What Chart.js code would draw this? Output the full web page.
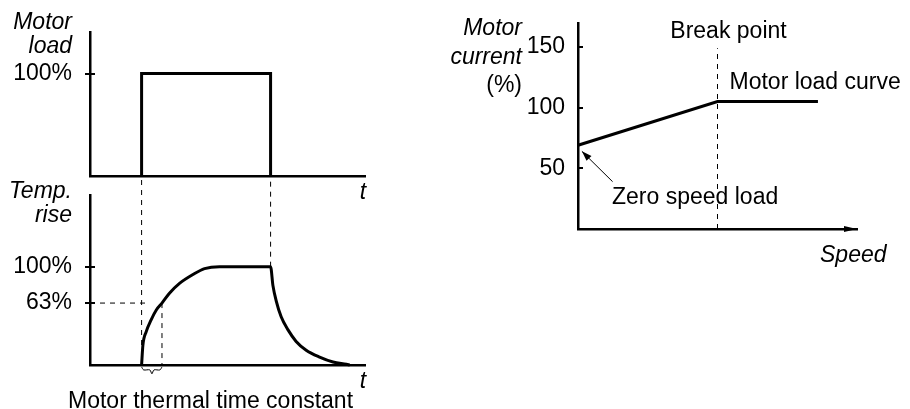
<!DOCTYPE html>
<html>
<head>
<meta charset="utf-8">
<script src="https://cdn.jsdelivr.net/npm/chart.js@4.4.1/dist/chart.umd.min.js"></script>
<style>
  html, body { margin: 0; padding: 0; background: #fff; }
  #wrap { position: relative; width: 910px; height: 409px; }
  #wrap canvas { position: absolute; left: 0; top: 0; }
</style>
</head>
<body>
<div id="wrap">
  <canvas id="loadChart" width="910" height="409"></canvas>
  <canvas id="tempChart" width="910" height="409"></canvas>
  <canvas id="currentChart" width="910" height="409"></canvas>
</div>
<script>
// motor load step (time in arbitrary units, load in %)
const loadTime = [2, 2, 7, 7];
const loadValue = [0, 100, 100, 0];
const loadTicks = [100];

// temperature rise
const tempTime = [2.0, 2.05, 2.18, 2.37, 2.57, 2.79, 3.08, 3.47, 3.99, 4.44, 5.02, 7.0,
                  7.09, 7.22, 7.41, 7.67, 7.99, 8.38, 8.9, 9.42, 9.94, 10.07];
const tempValue = [0, 20, 34, 46, 56, 63, 73, 83, 92, 98, 100, 100,
                   81, 65, 49, 36, 24, 15, 8, 3, 0.7, 0];
const tempTicks = [63, 100];
const tauTime = 2.79;     // one time constant after switch-on
const tauLevel = 63;

// small brace under the time constant
const braceTime = [2.0, 2.08, 2.32, 2.4, 2.48, 2.71, 2.79];
const braceValue = [-2, -5, -5, -9, -5, -5, -2];

// motor current vs speed
const speedValues = [0, 50, 86];
const currentValues = [69, 105, 105];
const currentTicks = [50, 100, 150];
const breakSpeed = 50;
const pointerSpeed = [12.4, 1.4];
const pointerCurrent = [39, 64];

const FAMILY = '"Liberation Sans", Arial, sans-serif';
const UPRIGHT = '23px ' + FAMILY;
const ITALIC = 'italic 23px ' + FAMILY;
const DASH = [5, 5];

function pts(xs, ys) {
    return xs.map((x, i) => ({ x: x, y: ys[i] }));
}

function line(data, extra) {
    return Object.assign({
        data: data,
        showLine: true,
        borderColor: "#000",
        borderWidth: 3,
        pointRadius: 0,
        fill: false,
        clip: false
    }, extra || {});
}

function dashed(data) {
    return line(data, { borderWidth: 1, borderDash: DASH });
}

function arrowHead(ctx, x1, y1, x2, y2, len, half) {
    const a = Math.atan2(y2 - y1, x2 - x1);
    ctx.beginPath();
    ctx.moveTo(x2, y2);
    ctx.lineTo(x2 - len * Math.cos(a) + half * Math.sin(a), y2 - len * Math.sin(a) - half * Math.cos(a));
    ctx.lineTo(x2 - len * Math.cos(a) - half * Math.sin(a), y2 - len * Math.sin(a) + half * Math.cos(a));
    ctx.closePath();
    ctx.fill();
}

function tickMarks(chart, outside, inside) {
    const ctx = chart.ctx, y = chart.scales.y, left = chart.chartArea.left;
    ctx.save();
    ctx.strokeStyle = "#000";
    ctx.lineWidth = 2;
    y.ticks.forEach(t => {
        const py = Math.round(y.getPixelForValue(t.value));
        ctx.beginPath();
        ctx.moveTo(left - outside, py);
        ctx.lineTo(left + inside, py);
        ctx.stroke();
    });
    ctx.restore();
}

// area = where the plot box sits on the page
function frame(area, xMax, yMax, yTicks, tickPad, fmt, decorate) {
    return {
        responsive: false,
        animation: false,
        layout: { padding: { left: 0, top: area.top, right: 910 - area.right, bottom: 0 } },
        plugins: { legend: { display: false }, tooltip: { enabled: false } },
        scales: {
            x: {
                type: "linear", min: 0, max: xMax,
                grid: { display: false, drawTicks: false },
                ticks: { display: false },
                border: { color: "#000", width: 2.5 },
                afterFit: s => { s.height = 409 - area.bottom; s.paddingLeft = 0; s.paddingRight = 0; }
            },
            y: {
                type: "linear", min: 0, max: yMax,
                grid: { display: false, drawTicks: false },
                border: { color: "#000", width: 2.5 },
                afterBuildTicks: s => { s.ticks = yTicks.map(v => ({ value: v })); },
                ticks: {
                    autoSkip: false,
                    padding: tickPad,
                    color: "#000",
                    font: { family: FAMILY, size: 23 },
                    callback: fmt
                },
                afterFit: s => { s.width = area.left; s.paddingTop = 0; s.paddingBottom = 0; }
            }
        }
    };
}

function decorPlugin(fn) {
    return {
        id: "decor",
        afterDraw(chart) {
            const ctx = chart.ctx;
            ctx.save();
            ctx.fillStyle = "#000";
            ctx.strokeStyle = "#000";
            fn(chart, ctx, chart.scales.x, chart.scales.y);
            ctx.restore();
        }
    };
}

// ---- Motor load ----
new Chart(document.getElementById("loadChart"), {
    type: "scatter",
    data: { datasets: [line(pts(loadTime, loadValue))] },
    options: frame({ left: 90, right: 365, top: 32, bottom: 176 }, 10.66, 140.5, loadTicks, 18, v => v + "%"),
    plugins: [decorPlugin((chart, ctx, x, y) => {
        tickMarks(chart, 5, 5);
        ctx.font = ITALIC;
        ctx.textAlign = "right";
        ctx.fillText("Motor", x.left - 18, 29);
        ctx.fillText("load", x.left - 18, 53);
        ctx.textAlign = "center";
        ctx.fillText("t", x.right - 2, 199);
    })]
});

// ---- Temperature rise ----
new Chart(document.getElementById("tempChart"), {
    type: "scatter",
    data: {
        datasets: [
            line(pts(tempTime, tempValue), { cubicInterpolationMode: "monotone" }),
            dashed(pts([loadTime[0], loadTime[1]], [0, 190])),
            dashed(pts([loadTime[2], loadTime[3]], [100, 190])),
            dashed(pts([0, 2.2], [tauLevel, tauLevel])),
            dashed(pts([tauTime, tauTime], [tauLevel, 0])),
            line(pts(braceTime, braceValue), { borderWidth: 1, tension: 0.3 })
        ]
    },
    options: frame({ left: 90, right: 365, top: 195, bottom: 365 }, 10.66, 172.9, tempTicks, 18, v => v + "%"),
    plugins: [decorPlugin((chart, ctx, x, y) => {
        tickMarks(chart, 5, 5);
        ctx.font = ITALIC;
        ctx.textAlign = "right";
        ctx.fillText("Temp.", x.left - 18, 198);
        ctx.fillText("rise", x.left - 18, 222);
        ctx.textAlign = "center";
        ctx.fillText("t", x.right - 2, 388);
        ctx.font = UPRIGHT;
        ctx.textAlign = "left";
        ctx.fillText("Motor thermal time constant", 68, 408);
    })]
});

// ---- Motor current vs speed ----
new Chart(document.getElementById("currentChart"), {
    type: "scatter",
    data: {
        datasets: [
            line(pts(speedValues, currentValues)),
            dashed(pts([breakSpeed, breakSpeed], [0, 149])),
            line(pts(pointerSpeed, pointerCurrent), { borderWidth: 1 })
        ]
    },
    options: frame({ left: 578, right: 857, top: 23, bottom: 229 }, 100, 169.8, currentTicks, 13, v => String(v)),
    plugins: [decorPlugin((chart, ctx, x, y) => {
        tickMarks(chart, 0, 5);
        // axis arrow
        arrowHead(ctx, x.left, y.bottom, x.right, y.bottom, 13, 3);
        // pointer to zero speed load
        arrowHead(ctx,
            x.getPixelForValue(pointerSpeed[0]), y.getPixelForValue(pointerCurrent[0]),
            x.getPixelForValue(pointerSpeed[1]), y.getPixelForValue(pointerCurrent[1]), 10, 3.5);

        const bx = x.getPixelForValue(breakSpeed);
        ctx.font = ITALIC;
        ctx.textAlign = "right";
        ctx.fillText("Motor", 522, 35);
        ctx.fillText("current", 522, 64);
        ctx.font = UPRIGHT;
        ctx.fillText("(%)", 522, 92);
        ctx.textAlign = "center";
        ctx.fillText("Break point", bx + 11, 38);
        ctx.textAlign = "left";
        ctx.fillText("Motor load curve", bx + 12, 89);
        ctx.fillText("Zero speed load", 612, 204);
        ctx.font = ITALIC;
        ctx.fillText("Speed", 820, 262);
    })]
});
</script>
</body>
</html>
